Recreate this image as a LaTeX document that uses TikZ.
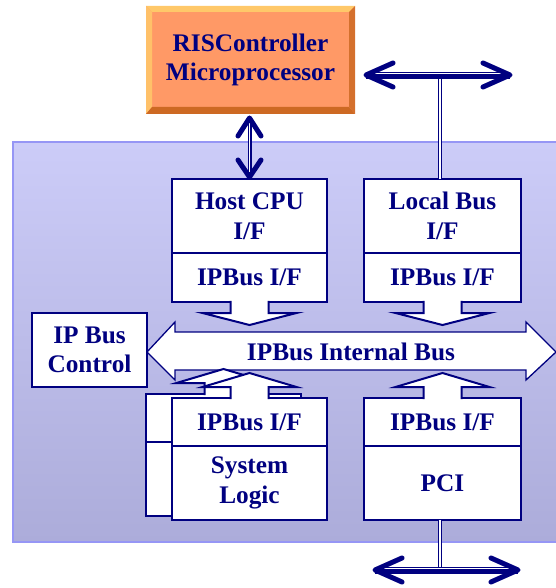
\documentclass[tikz,border=0pt]{standalone}
\usepackage{fontspec}
\setmainfont{Liberation Serif}
\usetikzlibrary{calc}
\definecolor{navy}{RGB}{0,0,128}
\definecolor{bgtop}{RGB}{204,204,248}
\definecolor{bgbot}{RGB}{172,172,218}
\definecolor{bgline}{RGB}{150,150,245}
\definecolor{orface}{RGB}{255,153,102}
\definecolor{orlight}{RGB}{255,200,105}
\definecolor{ordark}{RGB}{205,105,35}
\begin{document}
\begin{tikzpicture}[x=1pt,y=-1pt,
  txt/.style={font=\fontsize{25.3}{29.6}\selectfont\bfseries, text=navy, align=center},
  blk/.style={txt, draw=navy, line width=2.5pt, fill=white, inner sep=0pt, outer sep=0pt, anchor=north west},
  barrow/.style={draw=navy, line width=2pt, line join=miter},
  dbl/.style={draw=navy, line width=1.1pt, double=white, double distance=1.8pt},
  thinbus/.style={draw=navy, line width=1.1pt},
  thickbus/.style={draw=navy, line width=4.5pt},
  chev/.style={draw=navy, line width=5pt, line cap=round, line join=round},
  downarr/.pic={
    \fill[white] (-19,-3) -- (-19,11) -- (-47,11) -- (0,23) -- (47,11) -- (19,11) -- (19,-3) -- cycle;
    \draw[barrow] (-19,-1.2) -- (-19,11) -- (-47,11) -- (0,23) -- (47,11) -- (19,11) -- (19,-1.2);
  },
  uparr/.pic={
    \fill[white] (-19,3) -- (-19,-11) -- (-47,-11) -- (0,-25) -- (47,-11) -- (19,-11) -- (19,3) -- cycle;
    \draw[barrow] (-19,1.2) -- (-19,-11) -- (-47,-11) -- (0,-25) -- (47,-11) -- (19,-11) -- (19,1.2);
  }]
\useasboundingbox (0,0) rectangle (555,588);

% background panel
\shade[top color=bgtop, bottom color=bgbot] (13,142) rectangle (562,542);
\draw[bgline, line width=1.5pt] (562,142) -- (13,142) -- (13,542) -- (562,542);

% processor box with bevel
\node[txt, fill=orface, minimum width=209pt, minimum height=108pt, inner sep=0pt, outer sep=0pt, anchor=north west] (cpu) at (146,6) {RISController\\Microprocessor};
\fill[orlight] (cpu.north west) -- (cpu.north east) -- ($(cpu.north east)+(-6,6)$) -- ($(cpu.north west)+(6,6)$) -- cycle;
\fill[orlight!85!orface] (cpu.north west) -- ($(cpu.north west)+(6,6)$) -- ($(cpu.south west)+(6,-7)$) -- (cpu.south west) -- cycle;
\fill[ordark] (cpu.south west) -- ($(cpu.south west)+(6,-7)$) -- ($(cpu.south east)+(-6,-7)$) -- (cpu.south east) -- cycle;
\fill[ordark!85!orface] (cpu.north east) -- ($(cpu.north east)+(-6,6)$) -- ($(cpu.south east)+(-6,-7)$) -- (cpu.south east) -- cycle;

% upper blocks
\node[blk, minimum width=155pt, minimum height=74pt] (host) at (172,179) {Host CPU\\I/F};
\node[blk, minimum width=155pt, minimum height=49pt] (hostip) at (172,253) {IPBus I/F};
\node[blk, minimum width=157pt, minimum height=74pt] (local) at (364,179) {Local Bus\\I/F};
\node[blk, minimum width=157pt, minimum height=49pt] (localip) at (364,253) {IPBus I/F};

% IP bus control
\node[blk, minimum width=115pt, minimum height=74pt] (ctl) at (32,313) {IP Bus\\Control};

% internal bus arrow
\coordinate (busc) at (351,352);
\filldraw[fill=white, draw=navy, line width=1.3pt] (147,352) -- (175,322) -- (175,332) -- (526,332) -- (526,322) -- (556,352) -- (526,380) -- (526,370) -- (175,370) -- (175,380) -- cycle;
\node[txt] (bus) at (busc) {IPBus Internal Bus};

% down arrows
\pic at (hostip.south) {downarr};
\pic at (localip.south) {downarr};

% stacked back copy of system logic
\node[blk, minimum width=155pt, minimum height=48pt] (backip) at (146,394) {};
\node[blk, minimum width=155pt, minimum height=74pt] (back) at (146,442) {};
\pic at (backip.north) {uparr};

% lower blocks
\node[blk, minimum width=155pt, minimum height=48pt] (sysip) at (172,398) {IPBus I/F};
\node[blk, minimum width=155pt, minimum height=74pt] (sys) at (172,446) {System\\Logic};
\node[blk, minimum width=157pt, minimum height=48pt] (pciip) at (364,398) {IPBus I/F};
\node[blk, minimum width=157pt, minimum height=74pt] (pci) at (364,446) {PCI};
\pic at (sysip.north) {uparr};
\pic at (pciip.north) {uparr};

% processor <-> host CPU interface
\coordinate (ha) at ($(cpu.south -| host.north)+(0,4)$);
\coordinate (hb) at ($(host.north)+(0,-2)$);
\draw[dbl] (ha) -- (hb);
\draw[chev] ($(ha)+(-11.5,18)$) -- (ha) -- ($(ha)+(11.5,18)$);
\draw[chev] ($(hb)+(-11.5,-17)$) -- (hb) -- ($(hb)+(11.5,-17)$);

% local bus
\coordinate (tl) at (366,75);
\coordinate (tr) at (510,75);
\coordinate (tj) at (440,75);
\draw[dbl] (tj |- local.north) -- ($(tj)+(0,2)$);
\draw[thinbus] ($(tl)+(0,-2.8)$) -- ($(tr)+(0,-2.8)$);
\draw[thickbus] ($(tl)+(0,1.6)$) -- ($(tr)+(0,1.6)$);
\draw[chev] ($(tl)+(27,-12)$) -- (tl) -- ($(tl)+(27,12)$);
\draw[chev] ($(tr)+(-27,-12)$) -- (tr) -- ($(tr)+(-27,12)$);

% PCI bus
\coordinate (bl) at (375,570);
\coordinate (br) at (518,570);
\coordinate (bj) at (440,570);
\draw[dbl] (bj |- pci.south) -- ($(bj)+(0,-2)$);
\draw[thinbus] ($(bl)+(0,-2.8)$) -- ($(br)+(0,-2.8)$);
\draw[thickbus] ($(bl)+(0,1.6)$) -- ($(br)+(0,1.6)$);
\draw[chev] ($(bl)+(27,-12)$) -- (bl) -- ($(bl)+(27,12)$);
\draw[chev] ($(br)+(-27,-12)$) -- (br) -- ($(br)+(-27,12)$);
\end{tikzpicture}
\end{document}
